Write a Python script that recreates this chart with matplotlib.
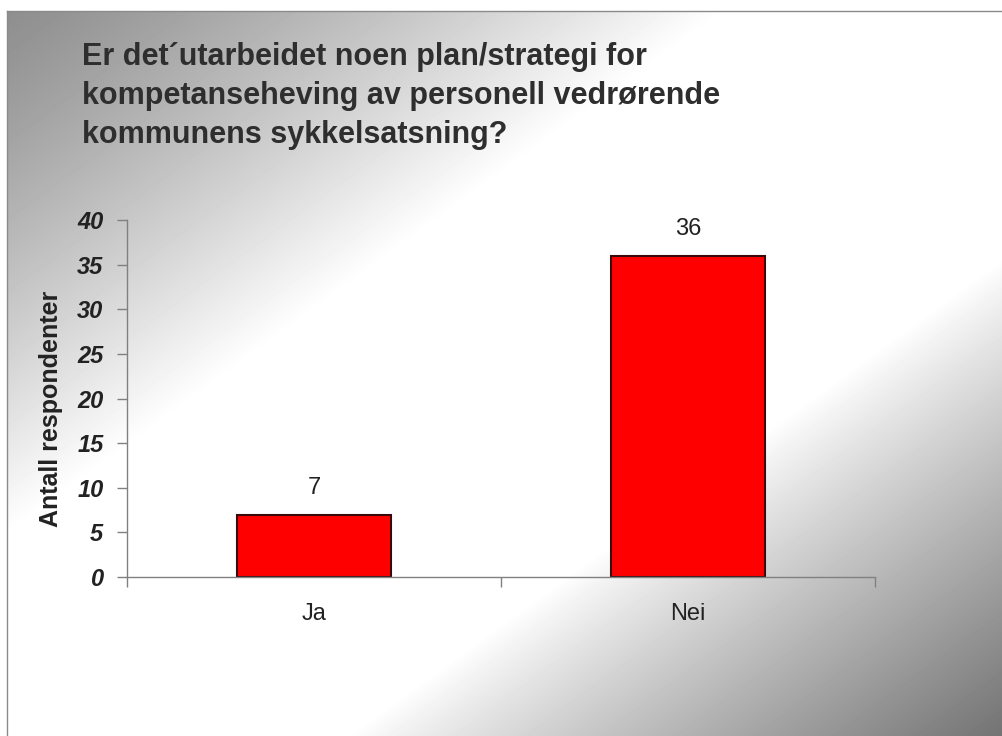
import matplotlib
matplotlib.use("Agg")
import matplotlib.pyplot as plt
import numpy as np

# data
categories = ["Ja", "Nei"]
values = [7, 36]
y_ticks = [0, 5, 10, 15, 20, 25, 30, 35, 40]
title_lines = ["Er det\u00b4utarbeidet noen plan/strategi for",
               "kompetanseheving av personell vedrørende",
               "kommunens sykkelsatsning?"]
y_label = "Antall respondenter"

W, H = 1003, 736
plt.rcParams['font.family'] = ['Liberation Sans', 'DejaVu Sans']

fig = plt.figure(figsize=(W / 100, H / 100), dpi=100)

# background: grey -> white band -> darker grey, running diagonally
bg = fig.add_axes([0, 0, 1, 1], zorder=-5)
bg.set_xlim(0, W)
bg.set_ylim(H, 0)
bg.axis('off')
x0, y0 = 8, 11
xx, yy = np.meshgrid(np.arange(x0, W), np.arange(y0, H))
s = (xx - x0) / (W - x0) + (yy - y0) / (H - y0)
g = np.ones_like(s)
up = s < 0.72
g[up] = 0.56 + 0.44 * (s[up] / 0.72) ** 1.2
lo = s > 1.34
g[lo] = 1.0 - 0.55 * ((s[lo] - 1.34) / 0.66) ** 0.9
bg.imshow(g, cmap='gray', vmin=0, vmax=1, extent=(x0, W, H, y0),
          aspect='auto', interpolation='bilinear')
bg.plot([x0 - 1, W], [y0, y0], color='#8a8a8a', lw=1)
bg.plot([x0 - 1, x0 - 1], [y0, H], color='#8a8a8a', lw=1)

# title, line by line
for i, line in enumerate(title_lines):
    fig.text(82 / W, 1 - (65 + 39 * i) / H, line, fontsize=22,
             fontweight='bold', color='#2e2e2e', va='baseline', ha='left')

ax = fig.add_axes([127 / W, 159 / H, 748 / W, 357 / H])
ax.patch.set_alpha(0)

x = np.arange(len(categories))
bars = ax.bar(x, values, width=0.41, color='#ff0000', edgecolor='#3a0a0a',
              linewidth=1.5)
for xi, v in zip(x, values):
    ax.annotate(str(v), (xi, v), xytext=(0, 15), textcoords='offset points',
                ha='center', va='baseline', fontsize=17, color='#222222')

ax.set_xlim(-0.5, 1.5)
ax.set_ylim(0, 40)
ax.set_yticks(y_ticks)
ax.set_yticklabels([str(t) for t in y_ticks], fontsize=17, fontweight='bold',
                   fontstyle='italic', color='#222222')
ax.tick_params(axis='y', direction='out', length=7, width=1, color='#808080',
               pad=10)

ax.set_xticks(x)
ax.set_xticklabels(categories, fontsize=17, color='#222222')
ax.tick_params(axis='x', which='major', length=0, pad=19)
ax.set_xticks([-0.5, 0.5, 1.5], minor=True)
ax.tick_params(axis='x', which='minor', direction='out', length=7, width=1,
               color='#808080')

for side in ['top', 'right']:
    ax.spines[side].set_visible(False)
for side in ['left', 'bottom']:
    ax.spines[side].set_color('#808080')
    ax.spines[side].set_linewidth(1)

ax.set_ylabel(y_label, fontsize=18, fontweight='bold', color='#222222')
ax.yaxis.set_label_coords(-0.086, 0.47)

fig.savefig('out.png', dpi=100)
